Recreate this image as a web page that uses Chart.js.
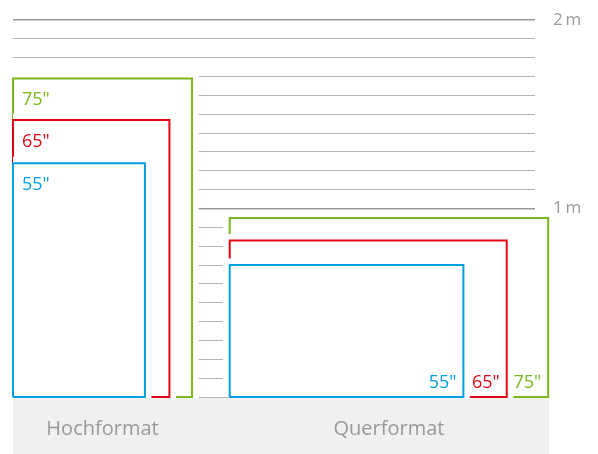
<!DOCTYPE html>
<html lang="de">
<head>
<meta charset="utf-8">
<title>TV-Größen Hochformat / Querformat</title>
<script src="https://cdn.jsdelivr.net/npm/chart.js@4.4.1/dist/chart.umd.min.js"></script>
<style>
  html, body { margin: 0; padding: 0; background: #fff; }
  #wrap { width: 598px; height: 454px; }
</style>
</head>
<body>
<div id="wrap"><canvas id="chartFormate"></canvas></div>
<script>
// Bildschirmgrößen (Diagonale) und Außenmaße in Metern
const sizes = ['55"', '65"', '75"'];
const longSide = [1.24, 1.47, 1.69];
const shortSide = [0.70, 0.83, 0.95];
const sizeColors = ['#009fe3', '#e30613', '#7ab51d'];
const groups = ['Hochformat', 'Querformat'];
const meterTicks = [1, 2];

const QUER_X = 1.15;      // Start der Querformat-Gruppe auf der x-Achse (m)
const X_MAX = 2.77;
const Y_MAX = 2;
const textGray = '#999';
const fontFamily = '"Open Sans", "Noto Sans", sans-serif';

// geschlossener Rahmen eines Geräts, unten links bei (x0, 0)
function frame(x0, w, h) {
  return [
    { x: x0, y: 0 },
    { x: x0, y: h },
    { x: x0 + w, y: h },
    { x: x0 + w, y: 0 },
    { x: x0, y: 0 },
  ];
}

const datasets = [];
sizes.forEach((size, i) => {
  const shapes = [
    frame(0, shortSide[i], longSide[i]),          // Hochformat
    frame(QUER_X, longSide[i], shortSide[i]),     // Querformat
  ];
  shapes.forEach((pts) => {
    // weißer Rand, verdeckt Linien dahinter
    datasets.push({
      label: size + ' halo',
      data: pts,
      showLine: true,
      borderColor: '#fff',
      backgroundColor: '#fff',
      borderWidth: 13,
      borderJoinStyle: 'miter',
      fill: 'shape',
      pointRadius: 0,
      order: 2 * i + 2,
      clip: { left: 0, top: 20, right: 30, bottom: 1 },
    });
    datasets.push({
      label: size,
      data: pts,
      showLine: true,
      borderColor: sizeColors[i],
      borderWidth: 2,
      borderJoinStyle: 'miter',
      fill: false,
      pointRadius: 0,
      order: 2 * i + 1,
      clip: { left: 1, top: 20, right: 30, bottom: 1 },
    });
  });
});

const groupCenters = [
  Math.max(...shortSide) / 2,
  QUER_X + Math.max(...longSide) / 2,
];

// grauer Streifen unter den Geräten
const bandPlugin = {
  id: 'band',
  beforeDraw(chart) {
    const { ctx, chartArea, scales } = chart;
    const right = scales.x.getPixelForValue(QUER_X + Math.max(...longSide)) + 1;
    ctx.save();
    ctx.fillStyle = '#f0f0f0';
    ctx.fillRect(chartArea.left, chartArea.bottom + 1, right - chartArea.left, chart.height - chartArea.bottom - 1);
    ctx.restore();
  },
};

// Größenangaben an den Rahmen
const sizeLabelPlugin = {
  id: 'sizeLabels',
  afterDatasetsDraw(chart) {
    const { ctx, scales } = chart;
    const x = scales.x, y = scales.y;
    ctx.save();
    ctx.font = '18px ' + fontFamily;
    sizes.forEach((size, i) => {
      ctx.fillStyle = sizeColors[i];
      // Hochformat: oben links
      ctx.textAlign = 'left';
      ctx.textBaseline = 'alphabetic';
      ctx.fillText(size, x.getPixelForValue(0) + 9, y.getPixelForValue(longSide[i]) + 27);
      // Querformat: unten rechts
      ctx.textAlign = 'right';
      ctx.fillText(size, x.getPixelForValue(QUER_X + longSide[i]) - 7, y.getPixelForValue(0) - 9);
    });
    ctx.restore();
  },
};

const ctx = document.getElementById('chartFormate').getContext('2d');
new Chart(ctx, {
  type: 'scatter',
  data: { datasets: datasets },
  options: {
    responsive: true,
    maintainAspectRatio: false,
    animation: false,
    layout: { padding: { left: 13, top: 20, right: 0, bottom: 0 } },
    plugins: {
      legend: { display: false },
      tooltip: { enabled: false },
    },
    scales: {
      x: {
        type: 'linear',
        min: 0,
        max: X_MAX,
        afterBuildTicks: (scale) => {
          scale.ticks = groupCenters.map((v) => ({ value: v }));
        },
        afterFit: (scale) => { scale.height = 57; },
        ticks: {
          autoSkip: false,
          maxRotation: 0,
          padding: 20,
          color: textGray,
          font: { family: fontFamily, size: 20 },
          callback: (value, index) => groups[index],
        },
        grid: { display: false, drawTicks: false },
        border: { display: false },
      },
      y: {
        position: 'right',
        min: 0,
        max: Y_MAX,
        afterFit: (scale) => {
          scale.width = 63;
          scale.paddingTop = 0;
          scale.paddingBottom = 0;
        },
        ticks: {
          stepSize: 0.1,
          autoSkip: false,
          padding: 18,
          color: textGray,
          font: { family: fontFamily, size: 17 },
          callback: (value) => {
            const v = Math.round(value * 10) / 10;
            return meterTicks.includes(v) ? v + '\u2009m' : '';
          },
        },
        grid: {
          drawTicks: false,
          color: (c) => meterTicks.includes(Math.round(c.tick.value * 10) / 10) ? '#999' : '#b5b5b5',
          lineWidth: (c) => meterTicks.includes(Math.round(c.tick.value * 10) / 10) ? 1.5 : 1,
        },
        border: { display: false },
      },
    },
  },
  plugins: [bandPlugin, sizeLabelPlugin],
});
</script>
</body>
</html>
